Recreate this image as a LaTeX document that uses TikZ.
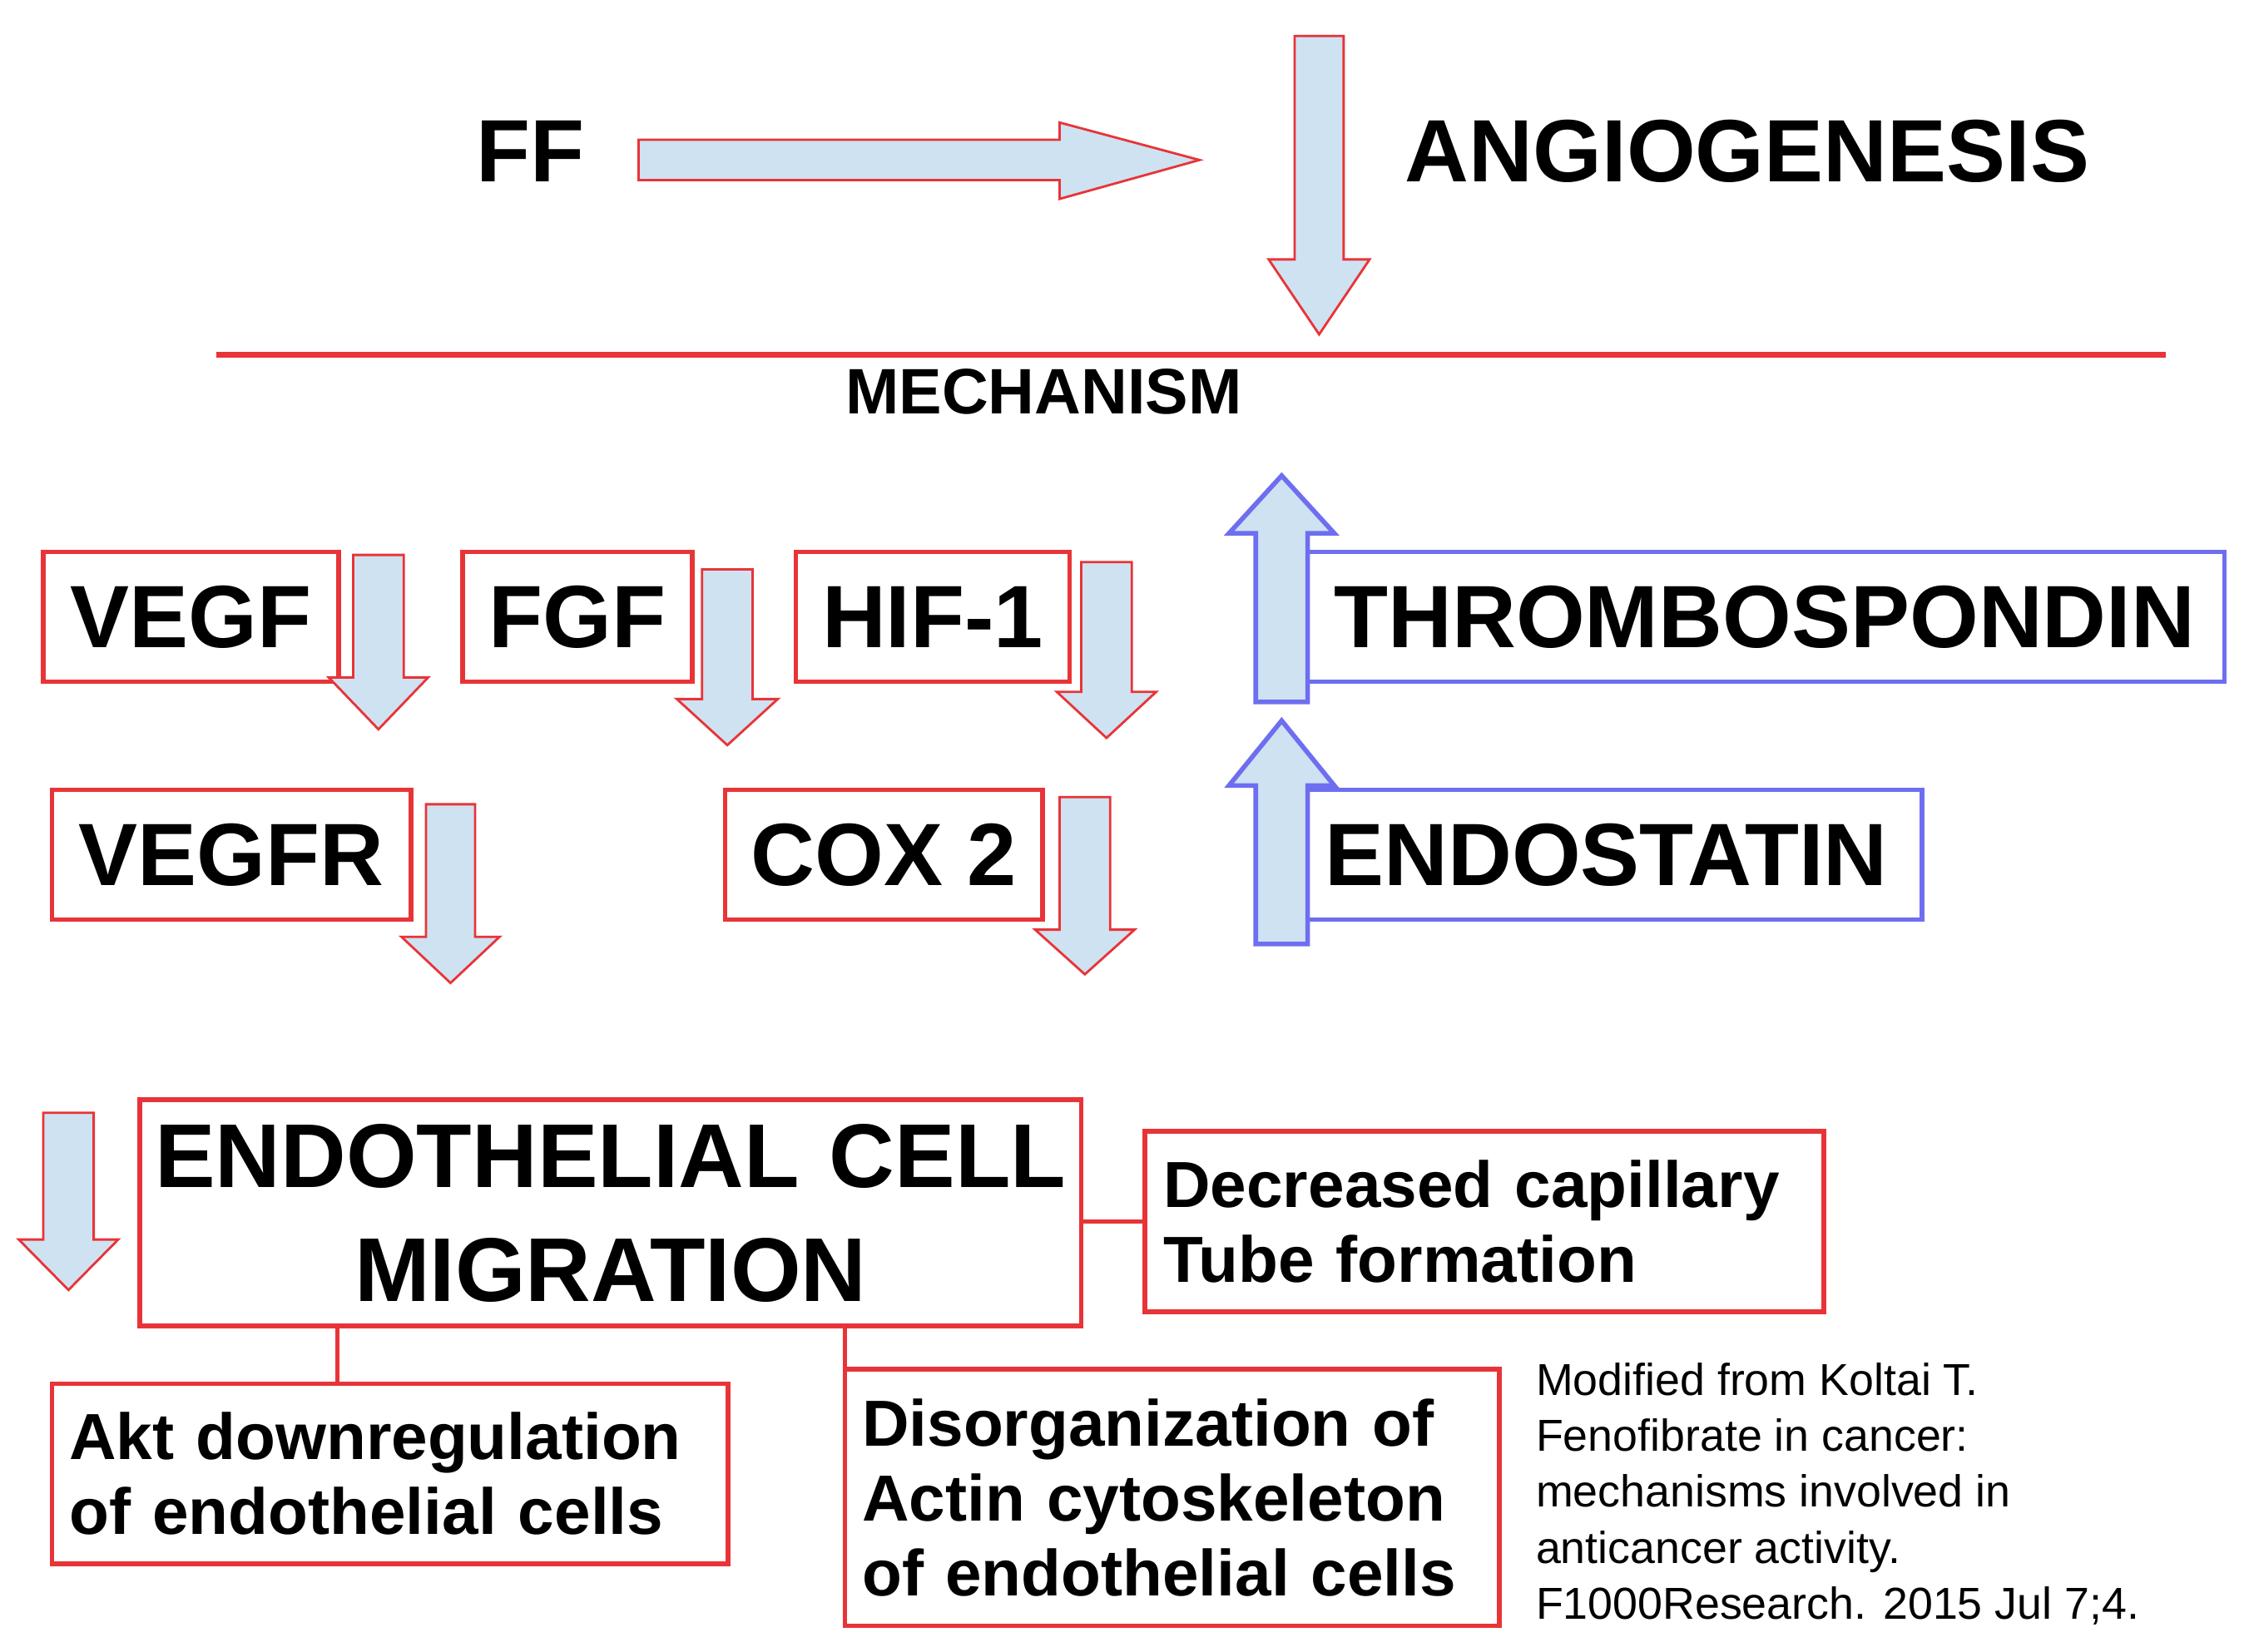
\documentclass[tikz,border=0pt]{standalone}
\usepackage{fontspec}
\setmainfont{Liberation Sans}
\begin{document}
\definecolor{rd}{RGB}{232,52,56}
\definecolor{bl}{RGB}{110,110,240}
\definecolor{lb}{RGB}{206,226,242}
\def\u{0.017327cm}
\tikzset{
 rbox/.style={draw=rd,line width=1.6pt,fill=white,inner sep=0pt},
 bbox/.style={rbox,draw=bl},
 big/.style={font=\fontsize{30.3}{36}\selectfont\bfseries},
 mid/.style={font=\fontsize{22.3}{25.6}\selectfont\bfseries,align=left},
 blk/.style={fill=lb,draw=rd,line width=0.8pt,line join=miter},
 blkb/.style={blk,draw=bl,line width=1.6pt},
}
\newcommand\dnar[7][blk]{\draw[#1] (#2-#3,#4) -- (#2+#3,#4) -- (#2+#3,#5) -- (#2+#6,#5) -- (#2,#7) -- (#2-#6,#5) -- (#2-#3,#5) -- cycle;}
\begin{tikzpicture}[x=0.017327cm,y=-0.017327cm]
\useasboundingbox (0,0) rectangle (1560,1146);
\node[big] (ff) at (368,105) {FF};
\node[big] (ang) at (1212,105) {ANGIOGENESIS};
\draw[blk] (443,97) -- (735,97) -- (735,85) -- (832,111) -- (735,138) -- (735,125) -- (443,125) -- cycle;
\dnar{915}{17}{25}{180}{35}{232}
\draw[rd,line width=2pt] (150,246) -- (1502,246);
\node[font=\fontsize{22}{26}\selectfont\bfseries] (mech) at (724,272) {MECHANISM};
\node[rbox,big,minimum width={205*\u},minimum height={90*\u}] (vegf) at (132.5,428) {VEGF};
\node[rbox,big,minimum width={159*\u},minimum height={90*\u}] (fgf) at (400.5,428) {FGF};
\node[rbox,big,minimum width={190*\u},minimum height={90*\u}] (hif) at (647,428) {HIF-1};
\node[bbox,big,minimum width={638*\u},minimum height={90*\u}] (thr) at (1224,428) {THROMBOSPONDIN};
\dnar{262.5}{17.5}{385}{470}{34.5}{506}
\dnar{504.5}{17.5}{395}{485}{35}{517}
\dnar{767.5}{17.5}{390}{480}{34.5}{512}
\dnar[blkb]{889}{18}{487}{370}{36.5}{330}
\node[rbox,big,minimum width={249*\u},minimum height={90*\u}] (vegfr) at (160.5,593) {VEGFR};
\node[rbox,big,minimum width={220*\u},minimum height={90*\u}] (cox) at (613,593) {COX 2};
\node[bbox,big,minimum width={428*\u},minimum height={90*\u},text width={400*\u},align=left] (endo) at (1119,593) {ENDOSTATIN};
\dnar{312.5}{17}{558}{650}{34}{682}
\dnar{752.5}{17.5}{553}{645}{34.5}{676}
\dnar[blkb]{889}{18}{655}{545}{36.5}{500}
\dnar{47.5}{17.5}{772}{860}{34.5}{895}
\node[rbox,font=\fontsize{31}{39}\selectfont\bfseries,align=center,minimum width={653*\u},minimum height={157*\u},text width={640*\u}] (ecm) at (423.5,841.5) {ENDOTHELIAL CELL\\MIGRATION};
\node[rbox,mid,minimum width={471*\u},minimum height={125*\u},text width={445*\u}] (dec) at (1029.5,847.5) {Decreased capillary\\Tube formation};
\node[rbox,mid,minimum width={469*\u},minimum height={125*\u},text width={445*\u}] (akt) at (270.5,1022.5) {Akt downregulation\\of endothelial cells};
\node[rbox,mid,minimum width={454*\u},minimum height={178*\u},text width={430*\u}] (dis) at (813,1039) {Disorganization of\\Actin cytoskeleton\\of endothelial cells};
\draw[rd,line width=1.6pt] (ecm.east |- dec.west) -- (dec.west);
\draw[rd,line width=1.6pt] (ecm.south -| 234,0) -- (akt.north -| 234,0);
\draw[rd,line width=1.6pt] (ecm.south -| 586,0) -- (dis.north -| 586,0);
\node[anchor=north west,align=left,inner sep=0pt,font=\fontsize{15.3}{19.2}\selectfont] (cite) at (1065,945) {Modified from Koltai T.\\Fenofibrate in cancer:\\mechanisms involved in\\anticancer activity.\\F1000Research. 2015 Jul 7;4.};
\end{tikzpicture}
\end{document}
